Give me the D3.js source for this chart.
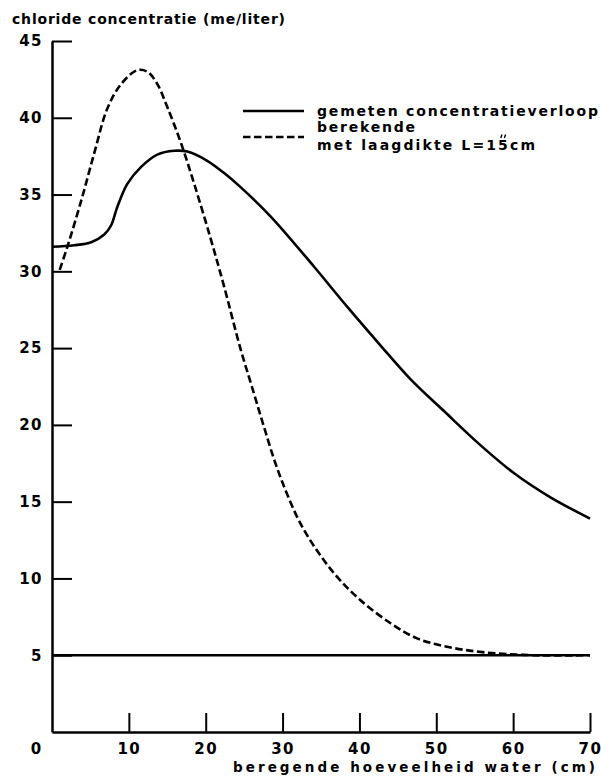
<!DOCTYPE html>
<html>
<head>
<meta charset="utf-8">
<script src="https://cdn.jsdelivr.net/npm/d3@7"></script>
<style>
  body { margin: 0; background: #fff; }
  svg text { font-family: "DejaVu Sans", Verdana, sans-serif; font-weight: bold; fill: #000; }
</style>
</head>
<body>
<svg width="601" height="776"></svg>
<script>
// gemeten (measured) chloride curve
var measX = [0, 2.9, 5.1, 6.8, 7.7, 8.5, 9.8, 11.6, 13.7, 15.9, 17.6, 20.2, 22.4, 24.5, 28.4, 34.1, 38.4, 42.7, 46.6, 51, 55.7, 60, 64.8, 70];
var measY = [31.6, 31.7, 31.9, 32.4, 33.0, 34.2, 35.7, 36.8, 37.6, 37.85, 37.8, 37.2, 36.4, 35.5, 33.6, 30.3, 27.7, 25.2, 23.0, 20.9, 18.7, 16.9, 15.3, 13.9];

// berekende (computed, L = 15 cm)
var calcX = [1, 2, 3.8, 5.5, 7.2, 9, 11.1, 12.4, 13.7, 15, 16.75, 18.5, 20.6, 22.4, 24.5, 26, 27.5, 29, 30.5, 32.3, 34.5, 37.1, 40.1, 44, 47.5, 51.4, 56, 62.6, 70];
var calcY = [30.1, 31.6, 34.6, 37.7, 40.6, 42.2, 43.1, 43.0, 42.2, 40.7, 38.4, 35.7, 32.2, 29, 25, 22.5, 20.0, 17.6, 15.6, 13.6, 11.8, 10.1, 8.6, 7.1, 6.1, 5.55, 5.2, 5.0, 5.0];

var baseLevel = 5;
var xTicks = [10, 20, 30, 40, 50, 60, 70];
var yTicks = [5, 10, 15, 20, 25, 30, 35, 40, 45];

var svg = d3.select('svg');

var x = d3.scaleLinear().domain([0, 70]).range([52, 590]);
var y = d3.scaleLinear().domain([0, 45]).range([732, 41]);

// axes
var yAxis = svg.append('g')
  .attr('transform', 'translate(52,0)')
  .call(d3.axisLeft(y).tickValues(yTicks).tickSize(-20).tickSizeOuter(0).tickPadding(9));

var xAxis = svg.append('g')
  .attr('transform', 'translate(0,732)')
  .call(d3.axisBottom(x).tickValues(xTicks).tickSize(-19).tickSizeOuter(0).tickPadding(11));

[yAxis, xAxis].forEach(g => {
  g.select('.domain').attr('stroke', '#000').attr('stroke-width', 2.5);
  g.selectAll('.tick line').attr('stroke', '#000').attr('stroke-width', 2);
  g.selectAll('.tick text')
    .attr('font-size', 15)
    .style('letter-spacing', '1.5px')
    .attr('font-family', null);
});

svg.append('text')
  .attr('x', x(0) - 16)
  .attr('y', 754)
  .attr('text-anchor', 'middle')
  .attr('font-size', 15)
  .text('0');

// horizontal reference line at 5
svg.append('line')
  .attr('x1', x(0)).attr('x2', x(70))
  .attr('y1', y(baseLevel)).attr('y2', y(baseLevel))
  .attr('stroke', '#000')
  .attr('stroke-width', 2.5);

var line = d3.line()
  .x(d => x(d[0]))
  .y(d => y(d[1]))
  .curve(d3.curveCatmullRom.alpha(0.5));

svg.append('path')
  .datum(d3.zip(measX, measY))
  .attr('d', line)
  .attr('fill', 'none')
  .attr('stroke', '#000')
  .attr('stroke-width', 2.6);

svg.append('path')
  .datum(d3.zip(calcX, calcY))
  .attr('d', line)
  .attr('fill', 'none')
  .attr('stroke', '#000')
  .attr('stroke-width', 2.6)
  .attr('stroke-dasharray', '7.5,3.5');

// titles
svg.append('text')
  .attr('x', 12)
  .attr('y', 24)
  .attr('font-size', 14)
  .attr('textLength', 273)
  .attr('lengthAdjust', 'spacing')
  .text('chloride concentratie (me/liter)');

svg.append('text')
  .attr('x', 595)
  .attr('y', 772)
  .attr('text-anchor', 'end')
  .attr('font-size', 13.5)
  .attr('textLength', 362)
  .attr('lengthAdjust', 'spacing')
  .text('beregende hoeveelheid water (cm)');

// legend
svg.append('line')
  .attr('x1', 243).attr('x2', 304)
  .attr('y1', 111).attr('y2', 111)
  .attr('stroke', '#000').attr('stroke-width', 2.5);

svg.append('line')
  .attr('x1', 243).attr('x2', 304)
  .attr('y1', 137).attr('y2', 137)
  .attr('stroke', '#000').attr('stroke-width', 2.5)
  .attr('stroke-dasharray', '7.5,3.5');

svg.append('text')
  .attr('x', 317).attr('y', 116)
  .attr('font-size', 14)
  .attr('textLength', 281)
  .attr('lengthAdjust', 'spacing')
  .text('gemeten concentratieverloop');

svg.append('text')
  .attr('x', 317).attr('y', 132)
  .attr('font-size', 14)
  .attr('textLength', 98)
  .attr('lengthAdjust', 'spacing')
  .text('berekende');

var met = svg.append('text')
  .attr('x', 317).attr('y', 150)
  .attr('font-size', 14)
  .attr('textLength', 218)
  .attr('lengthAdjust', 'spacing')
  .text('met laagdikte L=15cm');

// small double-prime mark above the 5 of "15"
var node = met.node();
var str = 'met laagdikte L=15cm';
var i5 = str.indexOf('5');
var cx = (node.getStartPositionOfChar(i5).x + node.getEndPositionOfChar(i5).x) / 2;
[-1.8, 1.8].forEach(dx => {
  svg.append('line')
    .attr('x1', cx + dx + 0.8).attr('y1', 134.5)
    .attr('x2', cx + dx - 0.4).attr('y2', 138)
    .attr('stroke', '#000').attr('stroke-width', 1.4);
});
</script>
</body>
</html>
